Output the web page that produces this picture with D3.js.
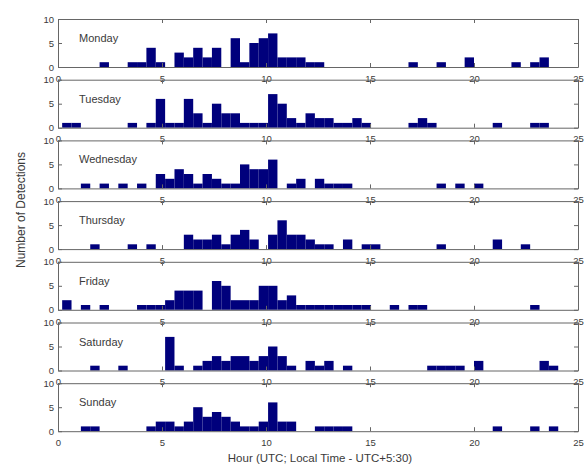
<!DOCTYPE html>
<html>
<head>
<meta charset="utf-8">
<script src="https://cdn.jsdelivr.net/npm/d3@7/dist/d3.min.js"></script>
<style>
  html, body { margin: 0; padding: 0; background: #fff; }
  svg { display: block; font-family: "Liberation Sans", Arial, sans-serif; }
</style>
</head>
<body>
<div id="root"></div>
<script>
// histogram bins: 53 bins of 0.45 h starting at 0.2 h
const BIN_START = 0.2;
const BIN_WIDTH = 0.45;

const DAYS = ["Monday", "Tuesday", "Wednesday", "Thursday", "Friday", "Saturday", "Sunday"];

const MONDAY    = [0,0,0,0,1,0,0,1,1,4, 1,0,3,2,4,2,4,0,6,1, 5,6,7,2,2,2,1,1,0,0, 0,0,0,0,0,0,0,1,0,0, 1,0,0,2,0,0,0,0,1,0, 1,2,0];
const TUESDAY   = [1,1,0,0,0,0,0,1,0,1, 6,1,1,6,3,1,5,3,3,1, 1,1,7,5,2,1,3,2,2,1, 1,2,1,0,0,0,0,1,2,1, 0,0,0,0,0,0,1,0,0,0, 1,1,0];
const WEDNESDAY = [0,0,1,0,1,0,1,0,1,0, 3,2,4,3,1,3,2,1,1,5, 4,4,6,0,1,2,0,2,1,1, 1,0,0,0,0,0,0,0,0,0, 1,0,1,0,1,0,0,0,0,0, 0,0,0];
const THURSDAY  = [0,0,0,1,0,0,0,1,0,1, 0,0,0,3,2,2,3,1,3,4, 2,0,3,6,3,3,2,1,1,0, 2,0,1,1,0,0,0,0,0,0, 1,0,0,0,0,0,2,0,0,1, 0,0,0];
const FRIDAY    = [2,0,1,0,1,0,0,0,1,1, 1,2,4,4,4,0,6,5,2,2, 2,5,5,2,3,1,1,1,1,1, 1,1,1,0,0,1,0,1,1,0, 0,0,0,0,0,0,0,0,0,0, 1,0,0];
const SATURDAY  = [0,0,0,1,0,0,1,0,0,0, 0,7,1,0,1,2,3,2,3,3, 2,3,5,3,1,0,2,1,2,0, 1,0,0,0,0,0,0,0,0,1, 1,1,1,0,2,0,0,0,0,0, 0,2,1];
const SUNDAY    = [0,0,1,1,0,0,0,0,0,1, 2,2,1,2,5,3,4,3,2,1, 1,2,6,2,2,0,0,1,1,1, 1,0,0,0,0,0,0,0,0,0, 0,0,0,0,0,0,1,0,0,0, 1,0,1];

const COUNTS = [MONDAY, TUESDAY, WEDNESDAY, THURSDAY, FRIDAY, SATURDAY, SUNDAY];

const X_TICKS = [0, 5, 10, 15, 20, 25];
const Y_TICKS = [0, 5, 10];
const X_LABEL = "Hour (UTC; Local Time - UTC+5:30)";
const Y_LABEL = "Number of Detections";

const width = 586;
const height = 469;
const left = 58;
const right = 578;
const top0 = 19;
const step = 60.7;
const panelH = 48;
const lineColor = "#666";
const textColor = "#3a3a3a";

const svg = d3.select("#root")
  .append("svg")
    .attr("width", width)
    .attr("height", height);

const x = d3.scaleLinear().domain([0, 25]).range([left, right]);

function styleAxis(g) {
  g.attr("font-family", null).attr("font-size", null);
  g.selectAll("path, line").attr("stroke", lineColor);
  g.selectAll("text").attr("fill", textColor).style("font-size", "9.5px");
}

DAYS.forEach((day, k) => {
  const top = top0 + k * step;
  const y = d3.scaleLinear().domain([0, 10]).range([top + panelH, top]);
  const panel = svg.append("g");

  const bins = COUNTS[k]
    .map((c, i) => ({ c: c, x0: BIN_START + i * BIN_WIDTH }))
    .filter(d => d.c > 0);

  // bars
  panel.append("g")
    .selectAll("rect")
    .data(bins)
    .enter()
    .append("rect")
      .attr("x", d => x(d.x0))
      .attr("width", d => x(d.x0 + BIN_WIDTH) - x(d.x0))
      .attr("y", d => y(d.c))
      .attr("height", d => y(0) - y(d.c))
      .attr("fill", "#00007c");

  // box with inward ticks
  panel.append("g")
    .attr("transform", `translate(0,${top + panelH})`)
    .call(d3.axisBottom(x).tickValues(X_TICKS).tickSizeInner(-4).tickSizeOuter(0).tickPadding(8))
    .call(styleAxis);

  panel.append("g")
    .attr("transform", `translate(0,${top})`)
    .call(d3.axisTop(x).tickValues(X_TICKS).tickSizeInner(-4).tickSizeOuter(0).tickFormat(""))
    .call(styleAxis);

  panel.append("g")
    .attr("transform", `translate(${left},0)`)
    .call(d3.axisLeft(y).tickValues(Y_TICKS).tickSizeInner(-4).tickSizeOuter(0).tickPadding(4))
    .call(styleAxis);

  panel.append("g")
    .attr("transform", `translate(${right},0)`)
    .call(d3.axisRight(y).tickValues(Y_TICKS).tickSizeInner(-4).tickSizeOuter(0).tickFormat(""))
    .call(styleAxis);

  // day name
  panel.append("text")
    .attr("x", 79)
    .attr("y", top + 23)
    .attr("fill", textColor)
    .style("font-size", "11px")
    .text(day);
});

// axis titles
svg.append("text")
  .attr("x", 320)
  .attr("y", 462)
  .attr("text-anchor", "middle")
  .attr("fill", textColor)
  .style("font-size", "11.5px")
  .text(X_LABEL);

svg.append("text")
  .attr("transform", "translate(25,210) rotate(-90)")
  .attr("text-anchor", "middle")
  .attr("fill", textColor)
  .style("font-size", "12px")
  .text(Y_LABEL);
</script>
</body>
</html>
